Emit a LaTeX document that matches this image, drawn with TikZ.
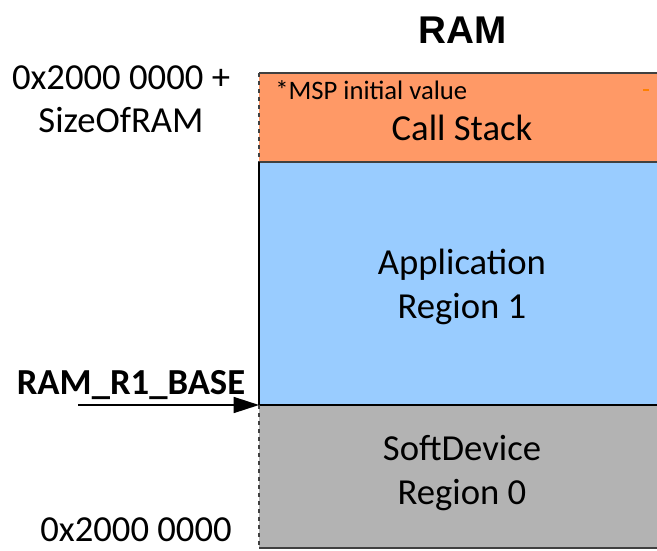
\documentclass[tikz,border=0pt]{standalone}
\usepackage{fontspec}
\setmainfont{Carlito}
\newfontfamily\arialfont{Liberation Sans}
\usetikzlibrary{arrows.meta, positioning}

\definecolor{stackorange}{RGB}{255,153,102}
\definecolor{appblue}{RGB}{153,204,255}
\definecolor{sdgray}{RGB}{179,179,179}
\definecolor{edgegray}{RGB}{64,64,64}

\begin{document}
\begin{tikzpicture}[x=0.75pt, y=-0.75pt,
    lbl/.style={font=\fontsize{27.5}{32.5}\selectfont, align=center, inner sep=0pt},
    small/.style={font=\fontsize{20}{24}\selectfont, inner sep=0pt},
    divider/.style={line width=1.5pt, edgegray}]
\useasboundingbox (0,0) rectangle (657,550);

% Memory regions
\coordinate (ramtop) at (259,73);
\coordinate (stackbot) at (259,162);
\coordinate (base) at (259,405);
\coordinate (rambot) at (259,548);
\fill[stackorange] (ramtop) rectangle (665,162);
\fill[appblue] (stackbot) rectangle (665,405);
\fill[sdgray] (base) rectangle (665,548);

% Edges
\draw[divider] (ramtop) -- (665,73);
\draw[divider] (stackbot) -- (665,162);
\draw[divider, black] (base) -- (665,405);
\draw[divider] (rambot) -- (665,548);
\draw[edgegray, line width=0.8pt, dashed] (ramtop) -- (stackbot);
\draw[black, line width=1.2pt] (stackbot) -- (base);
\draw[edgegray, line width=0.8pt, dashed] (base) -- (rambot);
\draw[orange, line width=0.8pt] (643,90) -- (649,90);

% Region labels
\node[font=\arialfont\bfseries\fontsize{29}{34}\selectfont, inner sep=0pt] (title) at (463,30) {RAM};
\node[small, anchor=west] (msp) at (275,90) {*MSP initial value};
\node[lbl] (stack) at (462,128) {Call Stack};
\node[lbl] (app) at (462,287) {Application\\Region 1};
\node[lbl] (sd) at (462,473) {SoftDevice\\Region 0};

% Addresses
\node[lbl] (topaddr) at (121,99) {0x2000 0000 +\\SizeOfRAM};
\node[lbl, font=\bfseries\fontsize{27.5}{32.5}\selectfont] (r1base) at (131,385) {RAM\_R1\_BASE};
\node[lbl] (botaddr) at (136,530) {0x2000 0000};

% Base pointer
\coordinate (basetail) at (78,405);
\draw[-{Triangle[length=19pt, width=12pt]}, line width=1.2pt] (basetail) -- (base);
\end{tikzpicture}
\end{document}
